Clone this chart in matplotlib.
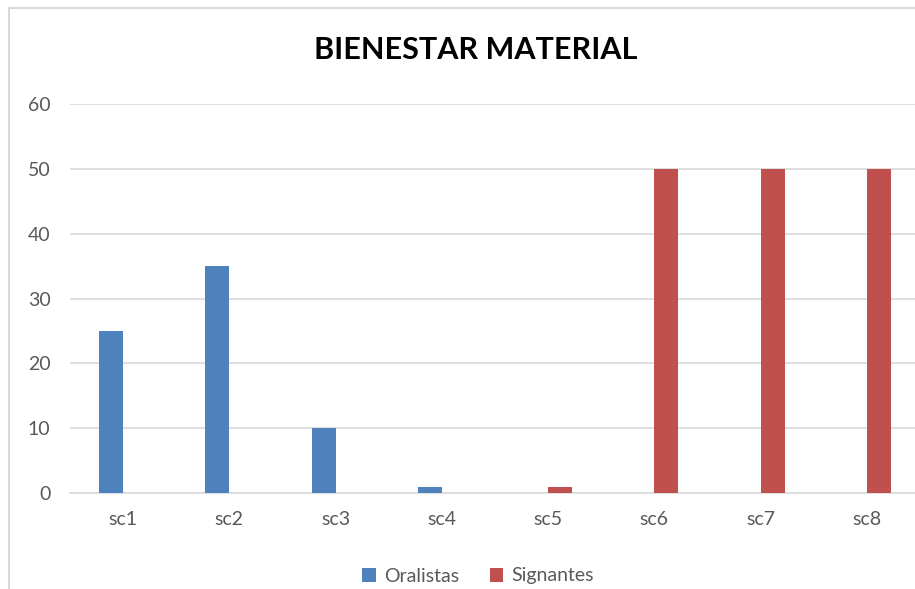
import numpy as np
import matplotlib.pyplot as plt
from matplotlib.patches import Rectangle

# datos del grafico
categorias = ['sc1', 'sc2', 'sc3', 'sc4', 'sc5', 'sc6', 'sc7', 'sc8']
oralistas = [25, 35, 10, 1, 0, 0, 0, 0]
signantes = [0, 0, 0, 0, 1, 50, 50, 50]
y_ticks = [0, 10, 20, 30, 40, 50, 60]

azul = '#4F81BD'
rojo = '#C0504D'
gris = '#595959'

plt.rcParams['font.family'] = ['Lato', 'DejaVu Sans']

W, H = 915, 589
fig = plt.figure(figsize=(W / 100, H / 100), dpi=100)

# marco del grafico (recortado a la derecha y abajo)
fig.patches.append(Rectangle((9 / W, -0.1), 1.2, (H - 8) / H + 0.1,
                             transform=fig.transFigure, fill=False,
                             edgecolor='#D9D9D9', linewidth=1.5))

# area de trazado: x de 70 a 920 px, y=0 en 493 px, y=60 en 104 px
x0, x1 = 70, 920
yb, yt = 493, 104
ax = fig.add_axes([x0 / W, (H - yb) / H, (x1 - x0) / W, (yb - yt) / H])

x = np.arange(len(categorias))
ancho = 0.226
ax.bar(x - ancho / 2, oralistas, ancho, color=azul, label='Oralistas', zorder=3)
ax.bar(x + ancho / 2, signantes, ancho, color=rojo, label='Signantes', zorder=3)

ax.set_xlim(-0.5, len(categorias) - 0.5)
ax.set_ylim(0, 60)
ax.set_yticks(y_ticks)
ax.set_xticks(x)
ax.set_xticklabels(categorias)
ax.yaxis.grid(True, color='#D9D9D9', linewidth=1.2, zorder=0)
ax.tick_params(axis='both', length=0, labelsize=14, colors=gris)
ax.tick_params(axis='y', pad=14)
ax.tick_params(axis='x', pad=13)
for s in ['left', 'right', 'top']:
    ax.spines[s].set_visible(False)
ax.spines['bottom'].set_color('#D9D9D9')
ax.spines['bottom'].set_linewidth(1.2)

fig.text(476 / W, (H - 50) / H, 'BIENESTAR MATERIAL', ha='center', va='center',
         fontsize=22, fontweight='bold', color='black')

fig.legend(loc='center', bbox_to_anchor=(478 / W, (H - 576) / H), ncol=2,
           frameon=False, fontsize=14, handlelength=0.7, handleheight=0.7,
           handletextpad=0.4, columnspacing=1.6, labelcolor=gris)

plt.savefig('out.png', dpi=100)
